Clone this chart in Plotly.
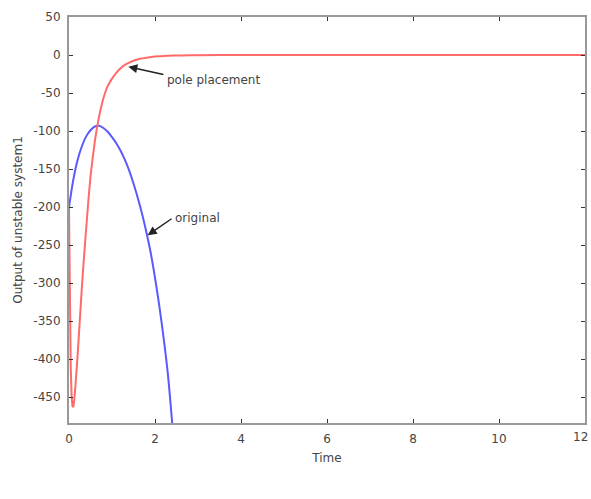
import plotly.graph_objects as go

# Time samples and outputs
t_orig = [0, 0.1, 0.2, 0.3, 0.4, 0.5, 0.6, 0.7, 0.8, 0.9, 1.0, 1.1, 1.2, 1.3,
          1.4, 1.5, 1.6, 1.7, 1.8, 1.9, 2.0, 2.1, 2.2, 2.3, 2.4, 2.45]
y_orig = [-200, -164, -138, -120, -107, -99, -94, -93, -96, -101, -108, -116,
          -126, -138, -152, -169, -188, -209, -233, -260, -293, -330, -372,
          -420, -484, -520]

t_pole = [0, 0.02, 0.04, 0.06, 0.08, 0.1, 0.12, 0.15, 0.2, 0.25, 0.3, 0.35,
          0.4, 0.45, 0.5, 0.55, 0.6, 0.65, 0.7, 0.75, 0.8, 0.85, 0.9, 1.0,
          1.1, 1.2, 1.3, 1.4, 1.5, 1.65, 1.8, 2.0, 2.3, 2.6, 3.0, 4.0, 6.0,
          8.0, 10.0, 12.0]
y_pole = [-200, -330, -410, -448, -462, -463, -455, -435, -395, -350, -305,
          -265, -228, -192, -160, -136, -114, -96, -81, -68, -57, -48, -41,
          -31, -23.5, -17.5, -13, -10, -7.5, -5, -3.5, -2, -1, -0.5, -0.2, 0, 0,
          0, 0, 0]

x_ticks = [0, 2, 4, 6, 8, 10, 12]
y_ticks = [50, 0, -50, -100, -150, -200, -250, -300, -350, -400, -450]

fig = go.Figure()
fig.add_trace(go.Scatter(x=t_orig, y=y_orig, mode="lines",
                         line=dict(color="#5a5aff", width=2, shape="spline", smoothing=0.8),
                         showlegend=False))
fig.add_trace(go.Scatter(x=t_pole[:8], y=y_pole[:8], mode="lines",
                         line=dict(color="#ff6a6a", width=2), showlegend=False))
fig.add_trace(go.Scatter(x=t_pole[7:], y=y_pole[7:], mode="lines",
                         line=dict(color="#ff6a6a", width=2, shape="spline", smoothing=0.6),
                         showlegend=False))

fam = "DejaVu Sans, Liberation Sans, Arial, sans-serif"
font = dict(family=fam, size=12, color="#444")

axis_common = dict(showline=True, linecolor="#999", linewidth=2, mirror="ticks",
                   ticks="inside", ticklen=4, tickcolor="#333", tickwidth=1,
                   showgrid=False, zeroline=False, tickfont=font, automargin=False)

fig.update_xaxes(range=[0, 12], tickvals=x_ticks, ticktext=[str(v) for v in x_ticks],
                 ticklabelstandoff=4, **axis_common,
                 title=dict(text="Time", font=font, standoff=8))
fig.update_yaxes(range=[-484, 50], tickvals=y_ticks, ticktext=[str(v) for v in y_ticks],
                 ticklabelstandoff=4, **axis_common,
                 title=dict(text="Output of unstable system1", font=font, standoff=8))

# last x tick label, kept inside the page at its right edge
fig.add_annotation(x=1, y=0, xref="paper", yref="paper", text=str(x_ticks[-1]),
                   showarrow=False, xanchor="right", yanchor="top", yshift=-5,
                   xshift=5, font=font)

# arrows
fig.add_annotation(x=1.38, y=-15.4, ax=2.23, ay=-26, axref="x", ayref="y",
                   text="", showarrow=True, arrowhead=2, arrowsize=1.2,
                   arrowwidth=1.5, arrowcolor="#222")
fig.add_annotation(x=2.23, y=-33, text="pole placement", showarrow=False,
                   xanchor="left", yanchor="middle", font=font)
fig.add_annotation(x=1.83, y=-237, ax=2.42, ay=-214, axref="x", ayref="y",
                   text="", showarrow=True, arrowhead=2, arrowsize=1.2,
                   arrowwidth=1.5, arrowcolor="#222")
fig.add_annotation(x=2.42, y=-214, text="original", showarrow=False,
                   xanchor="left", yanchor="middle", font=font)

fig.update_layout(width=591, height=499, margin=dict(l=69, r=6, t=17, b=76),
                  plot_bgcolor="white", paper_bgcolor="white")

fig.write_html("out.html")
